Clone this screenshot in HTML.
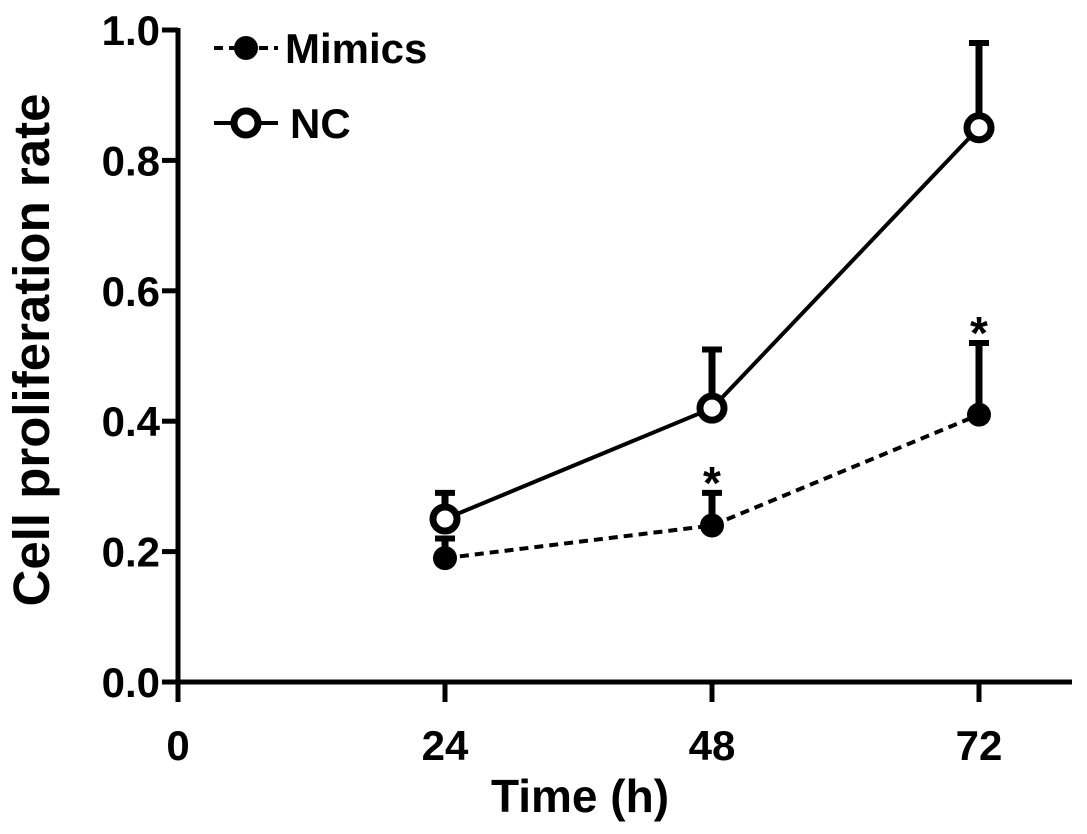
<!DOCTYPE html>
<html><head><meta charset="utf-8"><style>
html,body{margin:0;padding:0;background:#fff;}
svg{display:block;font-family:"Liberation Sans",Arial,sans-serif;font-weight:bold;}
</style></head><body>
<svg id="chart" width="1087" height="834" viewBox="0 0 1087 834" xmlns="http://www.w3.org/2000/svg"></svg>
<script>
const times = [24, 48, 72];
const mimicsVals = [0.19, 0.24, 0.41];
const mimicsErr = [0.03, 0.05, 0.11];
const ncVals = [0.25, 0.42, 0.85];
const ncErr = [0.04, 0.09, 0.13];
const starsAt = [48, 72];
const yTicks = [0.0, 0.2, 0.4, 0.6, 0.8, 1.0];
const xTicks = [0, 24, 48, 72];

const NS = "http://www.w3.org/2000/svg";
const svg = document.getElementById('chart');
const X0 = 178, Y0 = 682;
function xs(t){ return X0 + t * (445 - X0) / 24; }
function ys(v){ return Y0 - v * 652; }
function mk(tag, attrs, parent){
  const e = document.createElementNS(NS, tag);
  for (const k in attrs) e.setAttribute(k, attrs[k]);
  (parent || svg).appendChild(e);
  return e;
}
const yAxis = mk('line',{x1:X0,y1:ys(1.0)-2,x2:X0,y2:Y0+2,stroke:'#000','stroke-width':5});


const xAxis = mk('line',{x1:X0-2,y1:Y0,x2:1072,y2:Y0,stroke:'#000','stroke-width':5});


yTicks.forEach(v=>{
  const tk = mk('line',{x1:X0-16,y1:ys(v),x2:X0,y2:ys(v),stroke:'#000','stroke-width':5});
  
  
  const t = mk('text',{x:X0-18,y:ys(v)+15,'text-anchor':'end','font-size':42});
  t.textContent = v.toFixed(1);
  
  
});
xTicks.forEach(v=>{
  const tk = mk('line',{x1:xs(v),y1:Y0,x2:xs(v),y2:Y0+20,stroke:'#000','stroke-width':5});
  
  
  const t = mk('text',{x:xs(v),y:Y0+78,'text-anchor':'middle','font-size':42});
  t.textContent = String(v);
  
  
});
const xt = mk('text',{x:580,y:812,'text-anchor':'middle','font-size':46});
xt.textContent = 'Time (h)';


const yt = mk('text',{x:0,y:0,'text-anchor':'middle','font-size':51,transform:'translate(49,350) rotate(-90)'});
yt.textContent = 'Cell proliferation rate';



function series(vals, errs, dashed, filled, name){
  const g = mk('g',{});
  
  
  vals.forEach((v,i)=>{
    const x = xs(times[i]);
    const eb = mk('line',{x1:x,y1:ys(v),x2:x,y2:ys(v+errs[i]),stroke:'#000','stroke-width':7},g);
    
    
    const cap = mk('line',{x1:x-10,y1:ys(v+errs[i]),x2:x+10,y2:ys(v+errs[i]),stroke:'#000','stroke-width':6},g);
    
    
  });
  const pts = vals.map((v,i)=>xs(times[i])+','+ys(v)).join(' ');
  const pl = mk('polyline',{points:pts,fill:'none',stroke:'#000','stroke-width':4,'stroke-dasharray':dashed?'9 6':'none'},g);
  
  
  vals.forEach((v,i)=>{
    const c = mk('circle',{cx:xs(times[i]),cy:ys(v),r:12,fill:filled?'#000':'#fff',stroke:'#000','stroke-width':filled?0:7},g);
    
    
  });
}
series(mimicsVals, mimicsErr, true, true, 'mimics');
series(ncVals, ncErr, false, false, 'nc');
starsAt.forEach(t=>{
  const i = times.indexOf(t);
  const s = mk('text',{x:xs(t),y:ys(mimicsVals[i]+mimicsErr[i])+6,'text-anchor':'middle','font-size':46});
  s.textContent = '*';
  
  
});
const lg = mk('g',{});


mk('line',{x1:214,y1:48,x2:278,y2:48,stroke:'#000','stroke-width':4,'stroke-dasharray':'9 6'},lg);
mk('circle',{cx:246,cy:48,r:12,fill:'#000'},lg);
const l1 = mk('text',{x:285,y:63,'font-size':42},lg);
l1.textContent = 'Mimics';


mk('line',{x1:214,y1:123,x2:278,y2:123,stroke:'#000','stroke-width':4},lg);
mk('circle',{cx:246,cy:123,r:12,fill:'#fff',stroke:'#000','stroke-width':7},lg);
const l2 = mk('text',{x:290,y:138,'font-size':42},lg);
l2.textContent = 'NC';


</script>
</body></html>
